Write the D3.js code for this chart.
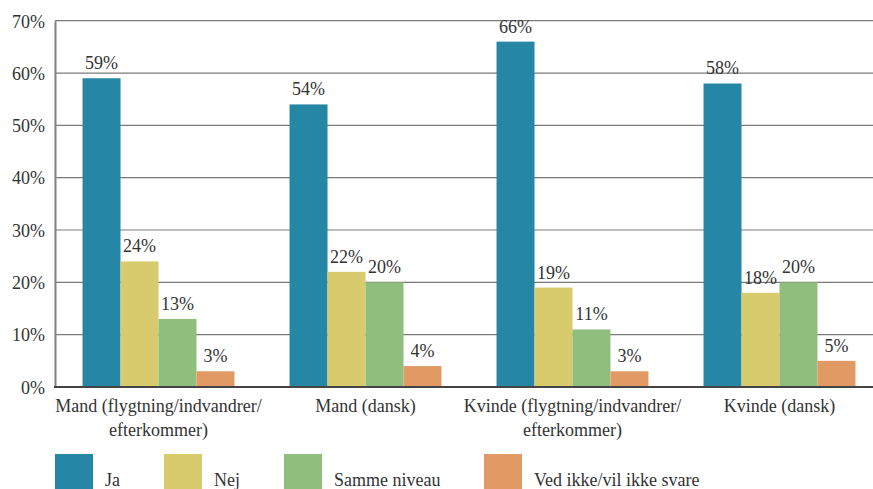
<!DOCTYPE html>
<html>
<head>
<meta charset="utf-8">
<script src="https://cdn.jsdelivr.net/npm/d3@7"></script>
<style>
  html, body { margin: 0; padding: 0; background: #fff; }
</style>
</head>
<body>
<svg id="chart" width="873" height="489"></svg>
<script>
const categories = [
  ["Mand (flygtning/indvandrer/", "efterkommer)"],
  ["Mand (dansk)"],
  ["Kvinde (flygtning/indvandrer/", "efterkommer)"],
  ["Kvinde (dansk)"]
];
const categoryKeys = ["m_fie", "m_dk", "k_fie", "k_dk"];
const seriesNames = ["Ja", "Nej", "Samme niveau", "Ved ikke/vil ikke svare"];
const seriesColors = ["#2586a6", "#d8cb6e", "#90bf7d", "#e29a65"];
const jaValues = [59, 54, 66, 58];
const nejValues = [24, 22, 19, 18];
const sammeValues = [13, 20, 11, 20];
const vedIkkeValues = [3, 4, 3, 5];
const yTicks = [0, 10, 20, 30, 40, 50, 60, 70];

const seriesValues = [jaValues, nejValues, sammeValues, vedIkkeValues];

(function () {
const FONT = "'Liberation Serif', 'Times New Roman', Times, serif";
const svg = d3.select("#chart");
const mLeft = 55, mRight = 883, mTop = 20.7, mBottom = 387;

const x0 = d3.scaleBand().domain(categoryKeys).range([mLeft, mRight])
  .paddingInner(0.266).paddingOuter(0.133);
const x1 = d3.scaleBand().domain(seriesNames).range([0, x0.bandwidth()]);
const y = d3.scaleLinear().domain([0, 70]).range([mBottom, mTop]);

function styleText(sel) {
  return sel.style("font-family", FONT).style("font-size", "18px").style("fill", "#333");
}

// gridlines
svg.append("g").selectAll("line").data(yTicks.filter(t => t > 0)).join("line")
  .attr("x1", mLeft).attr("x2", 873)
  .attr("y1", d => y(d)).attr("y2", d => y(d))
  .attr("stroke", "#7a7a7a").attr("stroke-width", 1.2);

// y axis
const yAxis = d3.axisLeft(y).tickValues(yTicks).tickSize(0).tickPadding(10)
  .tickFormat(d => d + "%");
const gy = svg.append("g").attr("transform", `translate(${mLeft},0)`).call(yAxis);
gy.attr("font-family", null).attr("font-size", null);
gy.select(".domain").attr("stroke", "#808080").attr("stroke-width", 2);
styleText(gy.selectAll("text")).attr("dy", "0.35em");

// bars
const groups = svg.append("g").selectAll("g").data(categoryKeys).join("g")
  .attr("transform", d => `translate(${x0(d)},0)`);
groups.each(function(key, ci) {
  const g = d3.select(this);
  seriesNames.forEach((s, si) => {
    const v = seriesValues[si][ci];
    g.append("rect")
      .attr("x", x1(s)).attr("width", x1.bandwidth())
      .attr("y", y(v)).attr("height", y(0) - y(v))
      .attr("fill", seriesColors[si]);
    styleText(g.append("text")
      .attr("x", x1(s) + x1.bandwidth() / 2)
      .attr("y", y(v) - 9)
      .attr("text-anchor", "middle"))
      .text(v + "%");
  });
});

// x axis baseline
svg.append("line").attr("x1", mLeft - 1).attr("x2", 873)
  .attr("y1", y(0)).attr("y2", y(0))
  .attr("stroke", "#444").attr("stroke-width", 2);

// category labels
const catG = svg.append("g");
categoryKeys.forEach((k, i) => {
  const cx = x0(k) + x0.bandwidth() / 2;
  const t = styleText(catG.append("text")
    .attr("x", cx).attr("y", 412)
    .attr("text-anchor", "middle"));
  categories[i].forEach((line, li) => {
    t.append("tspan").attr("x", cx)
      .attr("dy", li === 0 ? 0 : 24).text(line);
  });
});

// legend
const legendX = [55, 164, 284, 484];
const legend = svg.append("g");
seriesNames.forEach((s, i) => {
  legend.append("rect").attr("x", legendX[i]).attr("y", 454)
    .attr("width", 38).attr("height", 38).attr("fill", seriesColors[i]);
  styleText(legend.append("text").attr("x", legendX[i] + 50).attr("y", 486)).text(s);
});
})();
</script>
</body>
</html>
